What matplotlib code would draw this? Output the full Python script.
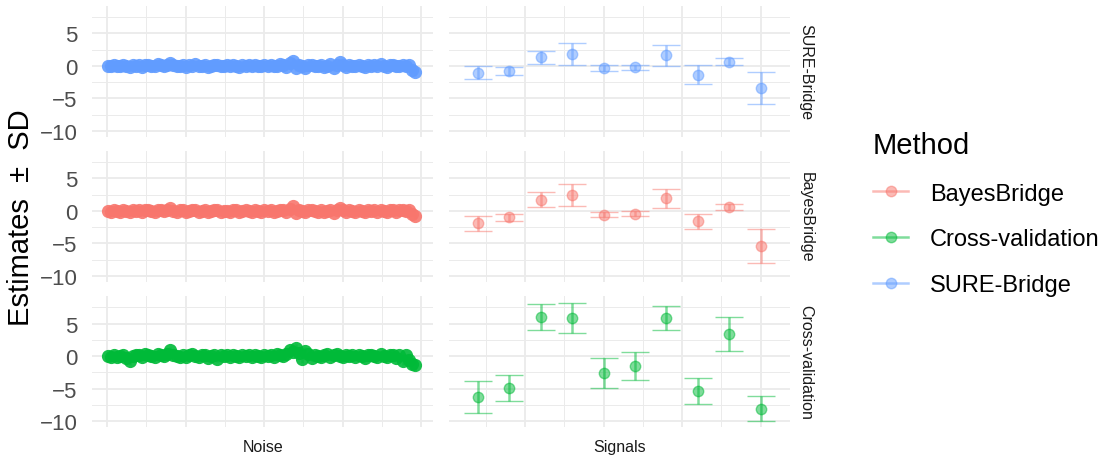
import matplotlib
matplotlib.use("Agg")
import matplotlib.pyplot as plt
from matplotlib.lines import Line2D

plt.rcParams["font.family"] = ["Liberation Sans", "DejaVu Sans"]

# facet rows, top to bottom
methods = ["SURE-Bridge", "BayesBridge", "Cross-validation"]
legend_order = ["BayesBridge", "Cross-validation", "SURE-Bridge"]
colors = {"BayesBridge": "#F8766D", "Cross-validation": "#00BA38", "SURE-Bridge": "#619CFF"}

# signal coefficients (10 of them)
signal_idx = [1, 2, 3, 4, 5, 6, 7, 8, 9, 10]
sure_signal = [-1.1, -0.8, 1.35, 1.8, -0.4, -0.25, 1.6, -1.35, 0.65, -3.35]
sure_signal_sd = [1.0, 0.6, 1.0, 1.7, 0.45, 0.4, 1.6, 1.4, 0.6, 2.45]
bayes_signal = [-1.9, -1.0, 1.75, 2.4, -0.55, -0.4, 1.95, -1.55, 0.55, -5.4]
bayes_signal_sd = [1.2, 0.55, 1.2, 1.7, 0.35, 0.35, 1.5, 1.15, 0.45, 2.6]
cv_signal = [-6.3, -4.9, 6.05, 5.85, -2.65, -1.55, 5.8, -5.4, 3.45, -8.1]
cv_signal_sd = [2.4, 2.05, 2.0, 2.3, 2.3, 2.15, 1.85, 2.0, 2.6, 1.9]

# noise coefficients, every 10th of the 990 shown
noise_idx = list(range(1, 991, 10))
sure_noise = [
    -0.1, 0.0, 0.1, -0.1, 0.0, 0.2, 0.0, -0.2, 0.1, 0.0, 0.1,
    -0.2, 0.1, 0.2, 0.0, -0.1, 0.3, 0.1, 0.0, 0.2, 0.5, 0.1,
    -0.1, 0.0, 0.2, -0.2, 0.1, 0.0, 0.3, -0.1, 0.0, 0.1, -0.2,
    0.0, 0.1, 0.2, -0.1, 0.0, 0.1, -0.1, 0.2, 0.0, -0.2, 0.1,
    0.0, 0.1, -0.1, 0.2, 0.0, -0.1, 0.1, 0.0, 0.2, -0.1, 0.0,
    0.3, 0.1, -0.2, 0.4, 0.7, -0.4, 0.2, 0.0, -0.3, 0.1, 0.2,
    0.0, -0.1, 0.1, -0.2, 0.0, 0.3, -0.4, 0.2, 0.6, 0.1, -0.2,
    0.2, 0.0, -0.1, 0.1, 0.0, -0.2, 0.2, 0.0, 0.1, -0.1, 0.3,
    0.0, -0.2, 0.1, 0.2, -0.1, 0.0, 0.2, -0.1, 0.1, -0.6, -0.9,
]
sure_noise_sd = [
    0.2, 0.2, 0.3, 0.2, 0.2, 0.3, 0.2, 0.2, 0.2, 0.3, 0.2,
    0.3, 0.2, 0.2, 0.2, 0.3, 0.3, 0.2, 0.2, 0.3, 0.4, 0.2,
    0.2, 0.2, 0.3, 0.3, 0.2, 0.2, 0.3, 0.2, 0.2, 0.2, 0.3,
    0.2, 0.2, 0.3, 0.2, 0.2, 0.2, 0.2, 0.3, 0.2, 0.3, 0.2,
    0.2, 0.2, 0.2, 0.3, 0.2, 0.2, 0.2, 0.2, 0.3, 0.2, 0.2,
    0.3, 0.2, 0.3, 0.3, 0.5, 0.4, 0.3, 0.2, 0.3, 0.2, 0.3,
    0.2, 0.2, 0.2, 0.3, 0.2, 0.3, 0.4, 0.3, 0.4, 0.2, 0.3,
    0.3, 0.2, 0.2, 0.2, 0.2, 0.3, 0.3, 0.2, 0.2, 0.2, 0.3,
    0.2, 0.3, 0.2, 0.3, 0.2, 0.2, 0.3, 0.2, 0.3, 0.5, 0.6,
]
bayes_noise = [
    0.0, -0.1, 0.1, 0.0, -0.1, 0.1, 0.0, -0.2, 0.1, 0.0, 0.1,
    -0.1, 0.1, 0.1, 0.0, -0.1, 0.2, 0.1, 0.0, 0.2, 0.4, 0.0,
    -0.1, 0.1, 0.1, -0.2, 0.0, 0.1, 0.2, -0.1, 0.0, 0.1, -0.1,
    0.0, 0.2, 0.1, -0.1, 0.0, 0.0, -0.1, 0.2, 0.1, -0.2, 0.0,
    0.1, 0.0, -0.1, 0.1, 0.0, -0.1, 0.1, 0.0, 0.1, -0.1, 0.0,
    0.2, 0.1, -0.1, 0.3, 0.8, -0.3, 0.2, 0.0, -0.2, 0.1, 0.1,
    0.0, -0.1, 0.2, -0.1, 0.0, 0.2, -0.3, 0.1, 0.5, 0.1, -0.2,
    0.1, 0.0, -0.1, 0.2, 0.0, -0.2, 0.1, 0.0, 0.2, -0.1, 0.2,
    0.0, -0.1, 0.1, 0.2, -0.1, 0.1, 0.1, 0.0, 0.2, -0.5, -0.8,
]
bayes_noise_sd = [
    0.2, 0.2, 0.2, 0.2, 0.3, 0.2, 0.2, 0.3, 0.2, 0.2, 0.2,
    0.3, 0.2, 0.2, 0.2, 0.2, 0.3, 0.2, 0.2, 0.3, 0.4, 0.2,
    0.2, 0.3, 0.2, 0.3, 0.2, 0.2, 0.3, 0.2, 0.2, 0.2, 0.2,
    0.2, 0.3, 0.2, 0.2, 0.2, 0.2, 0.2, 0.3, 0.2, 0.3, 0.2,
    0.2, 0.2, 0.2, 0.2, 0.2, 0.2, 0.2, 0.2, 0.2, 0.2, 0.2,
    0.3, 0.2, 0.2, 0.3, 0.5, 0.3, 0.3, 0.2, 0.3, 0.2, 0.2,
    0.2, 0.2, 0.3, 0.2, 0.2, 0.3, 0.3, 0.2, 0.4, 0.2, 0.3,
    0.2, 0.2, 0.2, 0.3, 0.2, 0.3, 0.2, 0.2, 0.3, 0.2, 0.3,
    0.2, 0.2, 0.2, 0.3, 0.2, 0.2, 0.2, 0.2, 0.3, 0.4, 0.5,
]
cv_noise = [
    0.0, -0.1, 0.1, -0.2, 0.0, 0.1, -0.3, -0.8, 0.0, 0.1, 0.2,
    -0.1, 0.3, 0.2, 0.0, -0.2, 0.4, 0.1, 0.0, 0.3, 0.9, 0.2,
    0.0, -0.1, 0.2, -0.2, 0.1, 0.3, 0.0, -0.1, 0.2, 0.1, -0.3,
    0.0, 0.2, -0.4, 0.1, 0.0, 0.2, -0.1, 0.1, 0.0, -0.2, 0.1,
    0.0, 0.2, -0.1, 0.1, 0.0, -0.2, 0.1, 0.0, 0.2, -0.1, 0.3,
    0.1, 0.0, 0.4, 0.9, 0.6, 1.2, 0.5, -0.5, 0.8, 0.3, -0.3,
    0.2, 0.0, -0.2, 0.1, 0.3, -0.1, 0.2, 0.4, 0.0, -0.2, 0.1,
    0.0, 0.2, -0.1, 0.1, 0.0, -0.3, 0.2, 0.1, 0.0, -0.1, 0.3,
    0.0, -0.2, 0.1, 0.2, -0.3, 0.2, -0.8, 0.1, -0.6, -1.2, -1.4,
]
cv_noise_sd = [
    0.3, 0.2, 0.3, 0.4, 0.2, 0.3, 0.3, 0.5, 0.2, 0.3, 0.3,
    0.3, 0.4, 0.3, 0.2, 0.3, 0.4, 0.3, 0.2, 0.4, 0.5, 0.3,
    0.2, 0.3, 0.3, 0.3, 0.2, 0.4, 0.2, 0.3, 0.3, 0.2, 0.4,
    0.3, 0.3, 0.5, 0.2, 0.3, 0.3, 0.2, 0.3, 0.2, 0.3, 0.3,
    0.2, 0.3, 0.3, 0.2, 0.3, 0.3, 0.2, 0.3, 0.3, 0.2, 0.4,
    0.3, 0.2, 0.5, 0.6, 0.5, 0.6, 0.5, 0.5, 0.6, 0.4, 0.4,
    0.3, 0.2, 0.3, 0.3, 0.4, 0.2, 0.3, 0.4, 0.2, 0.3, 0.3,
    0.2, 0.3, 0.3, 0.2, 0.3, 0.4, 0.3, 0.2, 0.3, 0.3, 0.4,
    0.3, 0.3, 0.2, 0.3, 0.4, 0.3, 0.5, 0.3, 0.6, 0.8, 0.8,
]

noise = {
    "SURE-Bridge": (sure_noise, sure_noise_sd),
    "BayesBridge": (bayes_noise, bayes_noise_sd),
    "Cross-validation": (cv_noise, cv_noise_sd),
}
signals = {
    "SURE-Bridge": (sure_signal, sure_signal_sd),
    "BayesBridge": (bayes_signal, bayes_signal_sd),
    "Cross-validation": (cv_signal, cv_signal_sd),
}

GRID = "#EBEBEB"


def style_panel(ax):
    ax.set_ylim(-10.9, 9.2)
    ax.set_yticks([-10, -5, 0, 5])
    ax.set_yticks([-7.5, -2.5, 2.5, 7.5], minor=True)
    for s in ax.spines.values():
        s.set_visible(False)
    ax.grid(which="major", color=GRID, lw=1.3)
    ax.grid(which="minor", color=GRID, lw=0.7)
    ax.set_axisbelow(True)
    ax.tick_params(which="both", length=0, labelbottom=False,
                   labelsize=16, labelcolor="#4D4D4D", pad=10.5)


def main():
    fig, axes = plt.subplots(3, 2, figsize=(11.09, 4.6), dpi=100, sharey=True)
    fig.subplots_adjust(left=92 / 1109, right=790 / 1109, bottom=1 - 428 / 460,
                        top=1 - 7 / 460, wspace=0.044, hspace=0.111)

    for row, m in enumerate(methods):
        c = colors[m]
        ax_n, ax_s = axes[row]

        # the real plot has ~990 overlapping points here, so the band is solid
        est, sd = noise[m]
        ax_n.errorbar(noise_idx, est, yerr=sd, fmt="none", ecolor=c, alpha=0.5,
                      elinewidth=1.8, capsize=0)
        ax_n.plot(noise_idx, est, "o", color=c, alpha=0.9, ms=9.5, mew=0)
        est, sd = signals[m]
        ax_s.errorbar(signal_idx, est, yerr=sd, fmt="o", color=c, alpha=0.5,
                      ms=7.5, mew=1, elinewidth=1.8, capsize=9.8, capthick=1.8)

        ax_n.set_xlim(-48.5, 1039.5)
        ax_n.set_xticks([0, 250, 500, 750, 1000])
        ax_n.set_xticks([125, 375, 625, 875], minor=True)
        ax_s.set_xlim(0.07, 10.93)
        ax_s.set_xticks([2.5, 5, 7.5, 10])
        ax_s.set_xticks([1.25, 3.75, 6.25, 8.75], minor=True)
        style_panel(ax_n)
        style_panel(ax_s)
        ax_s.tick_params(labelleft=False)

        ax_s.text(1.047, 0.5, m, transform=ax_s.transAxes, rotation=-90,
                  ha="center", va="center", fontsize=11.5, color="#1A1A1A")

    axes[2, 0].set_xlabel("Noise", fontsize=11.5, color="#1A1A1A", labelpad=9)
    axes[2, 1].set_xlabel("Signals", fontsize=11.5, color="#1A1A1A", labelpad=9)
    fig.text(21 / 1109, 1 - 217.5 / 460, "Estimates  \u00b1  SD", rotation=90,
             ha="center", va="center", fontsize=21)

    handles = [Line2D([0], [0], color=colors[m], marker="o", ms=7.5, lw=1.8,
                      alpha=0.5) for m in legend_order]
    fig.legend(handles, legend_order, loc="upper left",
               bbox_to_anchor=(873 / 1109, 1 - 132 / 460), frameon=False,
               title="Method", title_fontsize=21, fontsize=17,
               handlelength=1.5, handletextpad=0.9, labelspacing=1.0,
               alignment="left", borderpad=0, borderaxespad=0)

    fig.savefig("out.png", dpi=100)


main()
